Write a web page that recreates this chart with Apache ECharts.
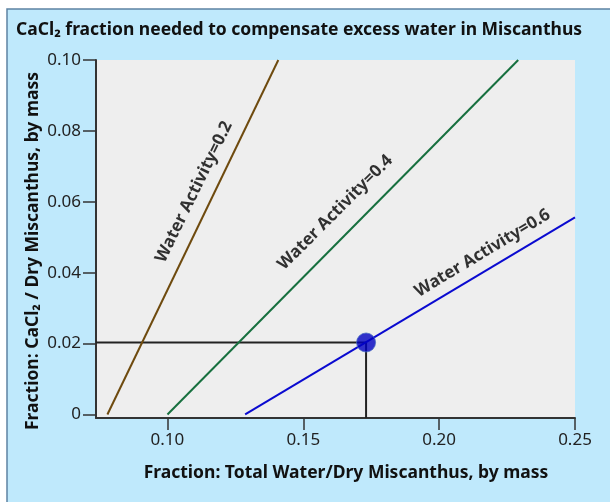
<!DOCTYPE html>
<html>
<head>
<meta charset="utf-8">
<script src="https://cdn.jsdelivr.net/npm/echarts@6/dist/echarts.min.js"></script>
<style>
  html, body { margin: 0; padding: 0; background: #fff; }
  #chart { width: 610px; height: 502px; }
</style>
</head>
<body>
<div id="chart"></div>
<script>
// axis ticks
const xTicks = [0.10, 0.15, 0.20, 0.25]
const yTicks = [0, 0.02, 0.04, 0.06, 0.08, 0.10]

// water activity lines, [total water fraction, CaCl2 fraction]
const aw02 = [[0.0779, 0], [0.1408, 0.10]]
const aw04 = [[0.1000, 0], [0.2291, 0.10]]
const aw06 = [[0.1286, 0], [0.2500, 0.0556]]

// operating point and its guide lines
const opPoint = [0.1731, 0.0203]
const guideH = [[0.0737, 0.0203], [0.1731, 0.0203]]
const guideV = [[0.1731, 0.0203], [0.1731, -0.001]]

// label anchors: [x, y, text, angle]
const lineLabels = [
  [0.1098, 0.0628, 'Water Activity=0.2', 64],
  [0.1618, 0.0570, 'Water Activity=0.4', 45],
  [0.2160, 0.0455, 'Water Activity=0.6', 31]
]

const font = 'Noto Sans'
const chart = echarts.init(document.getElementById('chart'))

function lineSeries(data, color, width) {
  return {
    type: 'line',
    data: data,
    symbol: 'none',
    silent: true,
    lineStyle: { color: color, width: width || 2 }
  }
}

const option = {
  animation: false,
  backgroundColor: '#fff',
  grid: {
    left: 96,
    right: 35,
    top: 60,
    bottom: 84,
    show: true,
    backgroundColor: '#eeeeee',
    borderWidth: 0
  },
  graphic: [
    {
      type: 'rect',
      z: -10,
      shape: { x: 7, y: 9, width: 620, height: 520 },
      style: { fill: '#bfe9fc', stroke: '#5d82a3', lineWidth: 1.5 }
    },
    {
      type: 'text',
      x: 16, y: 30,
      style: {
        text: 'CaCl₂ fraction needed to compensate excess water in Miscanthus',
        font: 'bold 17.5px "' + font + '"',
        fill: '#111',
        textVerticalAlign: 'middle'
      }
    },
    {
      type: 'text',
      x: 33, y: 251,
      rotation: Math.PI / 2,
      style: {
        text: 'Fraction: CaCl₂ / Dry Miscanthus, by mass',
        font: 'bold 17.5px "' + font + '"',
        fill: '#111',
        textAlign: 'center',
        textVerticalAlign: 'middle'
      }
    },
    {
      type: 'text',
      x: 346, y: 473,
      style: {
        text: 'Fraction: Total Water/Dry Miscanthus, by mass',
        font: 'bold 17.5px "' + font + '"',
        fill: '#111',
        textAlign: 'center',
        textVerticalAlign: 'middle'
      }
    }
  ],
  xAxis: {
    type: 'value',
    min: 0.0737,
    max: 0.25,
    splitLine: { show: false },
    axisLine: { onZero: false, lineStyle: { color: '#333', width: 2 } },
    axisTick: { customValues: xTicks, length: 12, lineStyle: { color: '#333', width: 1.5 } },
    axisLabel: {
      customValues: xTicks,
      formatter: v => v.toFixed(2),
      color: '#222', fontSize: 17, fontFamily: font, margin: 14
    }
  },
  yAxis: {
    type: 'value',
    min: -0.001,
    max: 0.10,
    splitLine: { show: false },
    axisLine: { show: true, onZero: false, lineStyle: { color: '#333', width: 2 } },
    axisTick: { show: true, customValues: yTicks, length: 13, lineStyle: { color: '#333', width: 1.5 } },
    axisLabel: {
      customValues: yTicks,
      formatter: v => v === 0 ? '0' : v.toFixed(2),
      color: '#222', fontSize: 17, fontFamily: font, margin: 15
    }
  },
  series: [
    lineSeries(guideH, '#222'),
    lineSeries(guideV, '#222'),
    lineSeries(aw02, '#6e4a0e'),
    lineSeries(aw04, '#17703f'),
    lineSeries(aw06, '#0a0ad0'),
    {
      type: 'scatter',
      data: [opPoint],
      symbolSize: 19,
      itemStyle: { color: '#0000c0', borderColor: '#4a6cc0', borderWidth: 1 },
      z: 5
    },
    {
      type: 'scatter',
      data: lineLabels,
      symbolSize: 0,
      silent: true,
      label: {
        show: true,
        position: 'inside',
        formatter: p => p.data[2],
        color: '#000',
        fontSize: 17,
        fontWeight: 'bold',
        fontFamily: font
      },
      labelLayout: p => ({ rotate: lineLabels[p.dataIndex][3] })
    }
  ]
}

chart.setOption(option)
</script>
</body>
</html>
